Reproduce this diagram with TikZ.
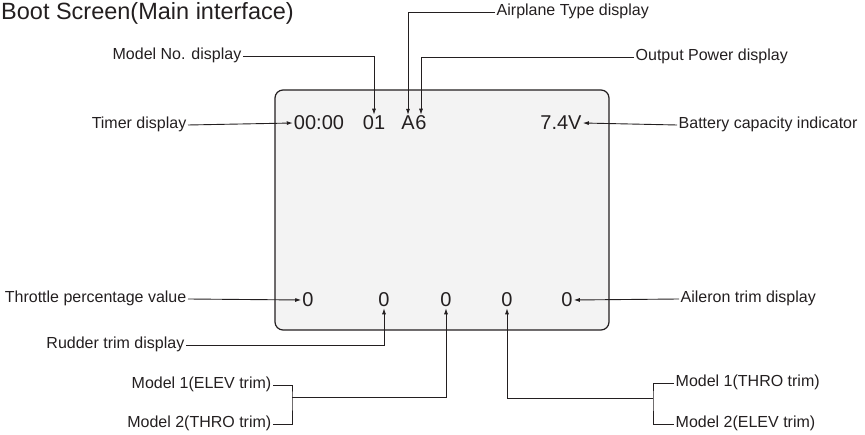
\documentclass[tikz,border=0pt]{standalone}
\usepackage{fontspec}
\setmainfont{Liberation Sans}
\usetikzlibrary{arrows.meta}
\definecolor{screenbg}{RGB}{243,243,243}
\definecolor{inkgray}{RGB}{35,31,32}
\tikzset{
  callout/.style={font=\fontsize{16}{18}\selectfont, inner sep=1.5pt, text height=11pt, text depth=3pt, text=inkgray},
  lcd/.style={font=\fontsize{20}{22}\selectfont, inner sep=1pt, text=inkgray},
  pointer/.style={draw=inkgray, line width=0.9pt, -{Latex[length=6pt,width=4pt]}},
  bracket/.style={draw=inkgray, line width=0.9pt},
}

\begin{document}
\begin{tikzpicture}[x=1pt,y=-1pt]
\useasboundingbox (0,0) rectangle (865,435);
\node[anchor=west, font=\fontsize{23.5}{26}\selectfont, inner sep=0, text=inkgray] (title) at (1,13) {Boot Screen(Main interface)};
% the screen
\draw[line width=1.2pt, draw=inkgray, fill=screenbg, rounded corners=8pt] (275,90) rectangle (609,330);

\node[lcd] (clock) at (319,123) {00:00};
\node[lcd] (modno) at (374,123) {01};
\node[lcd] (atype) at (408,123) {A};
\node[lcd] (power) at (421,123) {6};
\node[lcd] (volt) at (561,123) {7.4V};

\node[lcd] (z1) at (308,300) {0};
\node[lcd] (z2) at (384,300) {0};
\node[lcd] (z3) at (446,300) {0};
\node[lcd] (z4) at (507,300) {0};
\node[lcd] (z5) at (567,300) {0};

% labels left
\node[callout, anchor=east] (modnolbl) at (243,56) {Model No. display};
\node[callout, anchor=east] (timerlbl) at (188,125) {Timer display};
\node[callout, anchor=east] (throtlbl) at (188,299) {Throttle percentage value};
\node[callout, anchor=east] (rudlbl) at (186,345) {Rudder trim display};
\node[callout, anchor=east] (elevone) at (273,385) {Model 1(ELEV trim)};
\node[callout, anchor=east] (throtwo) at (273,424) {Model 2(THRO trim)};

% labels right
\node[callout, anchor=west] (typelbl) at (495,12) {Airplane Type display};
\node[callout, anchor=west] (powerlbl) at (634,57) {Output Power display};
\node[callout, anchor=west] (battlbl) at (677,125) {Battery capacity indicator};
\node[callout, anchor=west] (aillbl) at (679,299) {Aileron trim display};
\node[callout, anchor=west] (throone) at (674,383) {Model 1(THRO trim)};
\node[callout, anchor=west] (elevtwo) at (674,424) {Model 2(ELEV trim)};

\coordinate (lj) at (292,397);
\coordinate (rj) at (653,398);

\draw[pointer] (modnolbl.east) -| (modno.north);
\draw[pointer] (typelbl.west) -| (atype.north);
\draw[pointer] (powerlbl.west) -| (power.north);
\draw[pointer] (timerlbl.east) -- (clock.west);
\draw[pointer] (battlbl.west) -- (volt.east);
\draw[pointer] (throtlbl.east) -- (z1.west);
\draw[pointer] (aillbl.west) -- (z5.east);
\draw[pointer] (rudlbl.east) -| (z2.south);
\draw[bracket] (elevone.east) -| (lj) |- (throtwo.east);
\draw[pointer] (lj) -| (z3.south);
\draw[bracket] (throone.west) -| (rj) |- (elevtwo.west);
\draw[pointer] (rj) -| (z4.south);
\end{tikzpicture}
\end{document}
